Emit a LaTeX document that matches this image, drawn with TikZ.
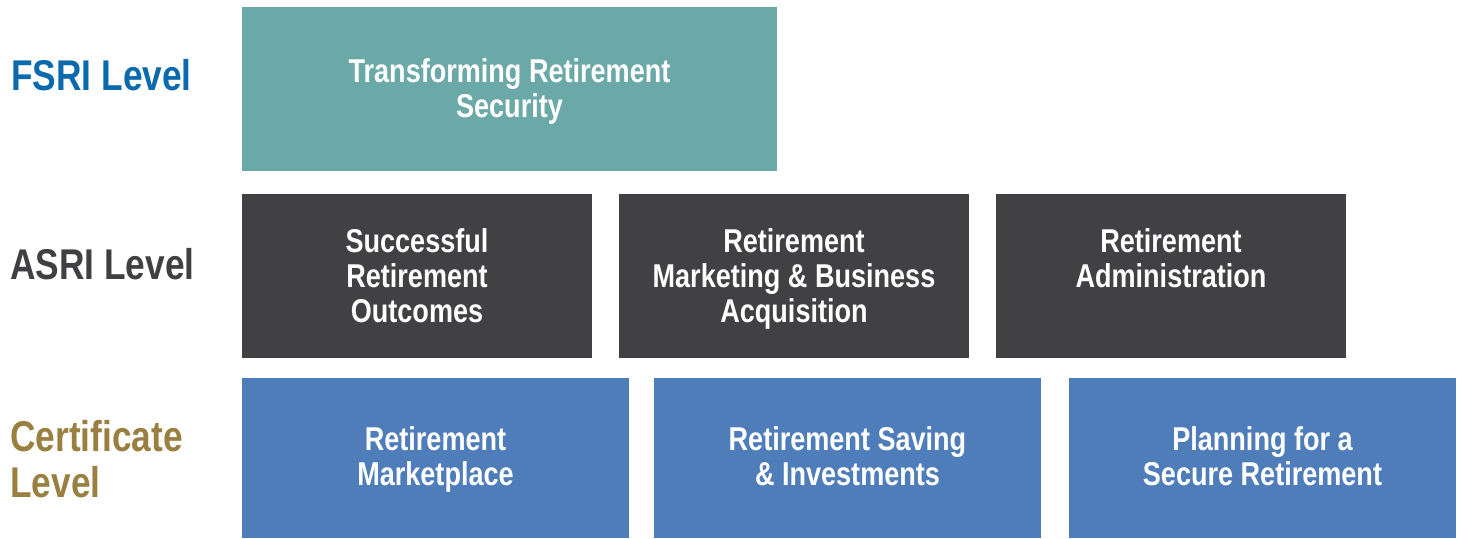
\documentclass[tikz,border=0pt]{standalone}
\usepackage{fontspec}
\newfontfamily\condfont[FakeStretch=0.82]{Liberation Sans}

\definecolor{fsriblue}{HTML}{0B69AE}
\definecolor{asrigray}{HTML}{404042}
\definecolor{certgold}{HTML}{9A8040}
\definecolor{tealbox}{HTML}{6BA9A8}
\definecolor{darkbox}{HTML}{414143}
\definecolor{bluebox}{HTML}{4F7DB9}

\tikzset{
  levellabel/.style={anchor=west, inner sep=0pt, align=left,
    font=\condfont\bfseries\fontsize{21.5}{23}\selectfont},
  tile/.style={rectangle, inner sep=0pt, draw=none},
  tiletext/.style={anchor=north, inner sep=0pt, text=white, align=center,
    font=\condfont\bfseries\fontsize{16.5}{17.5}\selectfont}
}

\begin{document}
\begin{tikzpicture}[x=0.5pt, y=-0.5pt]
    \useasboundingbox (0,0) rectangle (1458,539);

    % level names down the left side
    \node[levellabel, text=fsriblue] (fsri) at (11,75.5) {FSRI Level};
    \node[levellabel, text=asrigray] (asri) at (10,264) {ASRI Level};
    \node[levellabel, text=certgold] (cert) at (10,459) {Certificate\\Level};

    % top row
    \node[tile,
        fill=tealbox,
        minimum width=267.5pt,
        minimum height=82pt] (trs) at (509.5,89) {};
    \node[tiletext] (trs-t) at ([yshift=-25.75pt]trs.north) {Transforming Retirement\\Security};

    % middle row
    \node[tile, fill=darkbox, minimum width=175pt, minimum height=82pt] (asri1) at (417,276) {};
    \node[tile, fill=darkbox, minimum width=175pt, minimum height=82pt] (asri2) at (794,276) {};
    \node[tile, fill=darkbox, minimum width=175pt, minimum height=82pt] (asri3) at (1171,276) {};
    \node[tiletext] (asri1-t) at ([yshift=-17.5pt]asri1.north) {Successful\\Retirement\\Outcomes};
    \node[tiletext] (asri2-t) at ([yshift=-17.5pt]asri2.north) {Retirement\\Marketing \& Business\\Acquisition};
    \node[tiletext] (asri3-t) at ([yshift=-17.5pt]asri3.north) {Retirement\\Administration};

    % bottom row
    \node[tile, fill=bluebox, minimum width=193.5pt, minimum height=80pt] (cert1) at (435.5,458) {};
    \node[tile, fill=bluebox, minimum width=193.5pt, minimum height=80pt] (cert2) at (847.5,458) {};
    \node[tile, fill=bluebox, minimum width=193.5pt, minimum height=80pt] (cert3) at (1262.5,458) {};
    \node[tiletext] (cert1-t) at ([yshift=-24.25pt]cert1.north) {Retirement\\Marketplace};
    \node[tiletext] (cert2-t) at ([yshift=-24.25pt]cert2.north) {Retirement Saving\\\& Investments};
    \node[tiletext] (cert3-t) at ([yshift=-24.25pt]cert3.north) {Planning for a\\Secure Retirement};

\end{tikzpicture}
\end{document}
